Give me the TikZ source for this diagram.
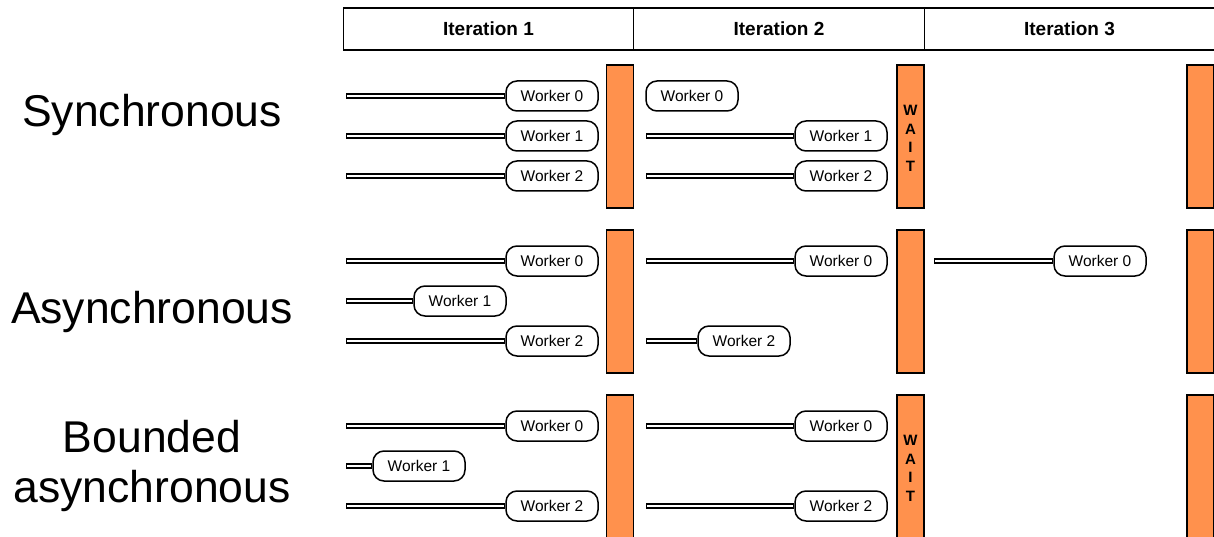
\documentclass[tikz,border=0pt]{standalone}
\usepackage{fontspec}
\setmainfont{Liberation Sans}
\usetikzlibrary{positioning}

\definecolor{barorange}{HTML}{FF914D}

\tikzset{
  worker/.style={draw, line width=1.5pt, rounded corners=11pt, fill=white, minimum width=92pt, minimum height=30pt, inner sep=0pt, font=\fontsize{15.5}{18}\selectfont},
  track/.style={double, line width=1.4pt, double distance=2.4pt, line cap=rect, shorten >=2.6pt},
  barrier/.style={draw, line width=1.4pt, fill=barorange, minimum width=27pt, minimum height=143pt, inner sep=0pt},
  iteration/.style={draw, line width=1.4pt, minimum width=290.5pt, minimum height=42pt, inner sep=0pt, font=\fontsize{19}{22}\selectfont\bfseries},
  mode/.style={inner sep=0pt, align=center, font=\fontsize{44.5}{50}\selectfont},
  waitlabel/.style={inner sep=0pt, align=center, yshift=-2pt, font=\fontsize{15}{18.5}\selectfont\bfseries}
}

\begin{document}
\begin{tikzpicture}[x=1pt, y=-1pt]
\useasboundingbox (0,0) rectangle (1214,537);
\clip (0,0) rectangle (1214,537);

% column headers
\foreach \i in {1,2,3}
  \node[iteration, name=iter\i] at (198+290.5*\i, 29) {Iteration \i};

% barriers between iterations
\foreach \col/\x in {1/620, 2/910.5, 3/1200.5}
  \foreach \row/\y in {1/136.5, 2/301.5, 3/466.5}
    \node[barrier, name=bar\row\col] at (\x,\y) {};
\node[waitlabel, name=wait1] at (bar12) {W\\A\\I\\T};
\node[waitlabel, name=wait3] at (bar32) {W\\A\\I\\T};

% row labels
\node[mode, anchor=base, name=sync] at (152,127) {Synchronous};
\node[mode, anchor=base, name=async] at (152,323) {Asynchronous};
\node[mode, name=bounded] at (152,466) {Bounded\\asynchronous};

% workers
\foreach \name/\x/\y/\label in {
    s10/552/96/Worker 0, s11/552/136/Worker 1, s12/552/176/Worker 2,
    s20/692/96/Worker 0, s21/841/136/Worker 1, s22/841/176/Worker 2,
    a10/552/261/Worker 0, a11/460/301/Worker 1, a12/552/341/Worker 2,
    a20/841/261/Worker 0, a22/744/341/Worker 2,
    a30/1100/261/Worker 0,
    b10/552/426/Worker 0, b11/419/466/Worker 1, b12/552/506/Worker 2,
    b20/841/426/Worker 0, b22/841/506/Worker 2}
  \node[worker, name=\name] at (\x,\y) {\label};

% progress of each worker
\foreach \name/\x in {s10/348.6, s11/348.6, s12/348.6, s21/648.6, s22/648.6,
    a10/348.6, a11/348.6, a12/348.6, a20/648.6, a22/648.6, a30/936.6,
    b10/348.6, b11/348.6, b12/348.6, b20/648.6, b22/648.6} {
  \coordinate (\name-from) at (\x,0 |- \name.west);
  \draw[track] (\name-from) -- (\name.west);
}
\end{tikzpicture}
\end{document}
